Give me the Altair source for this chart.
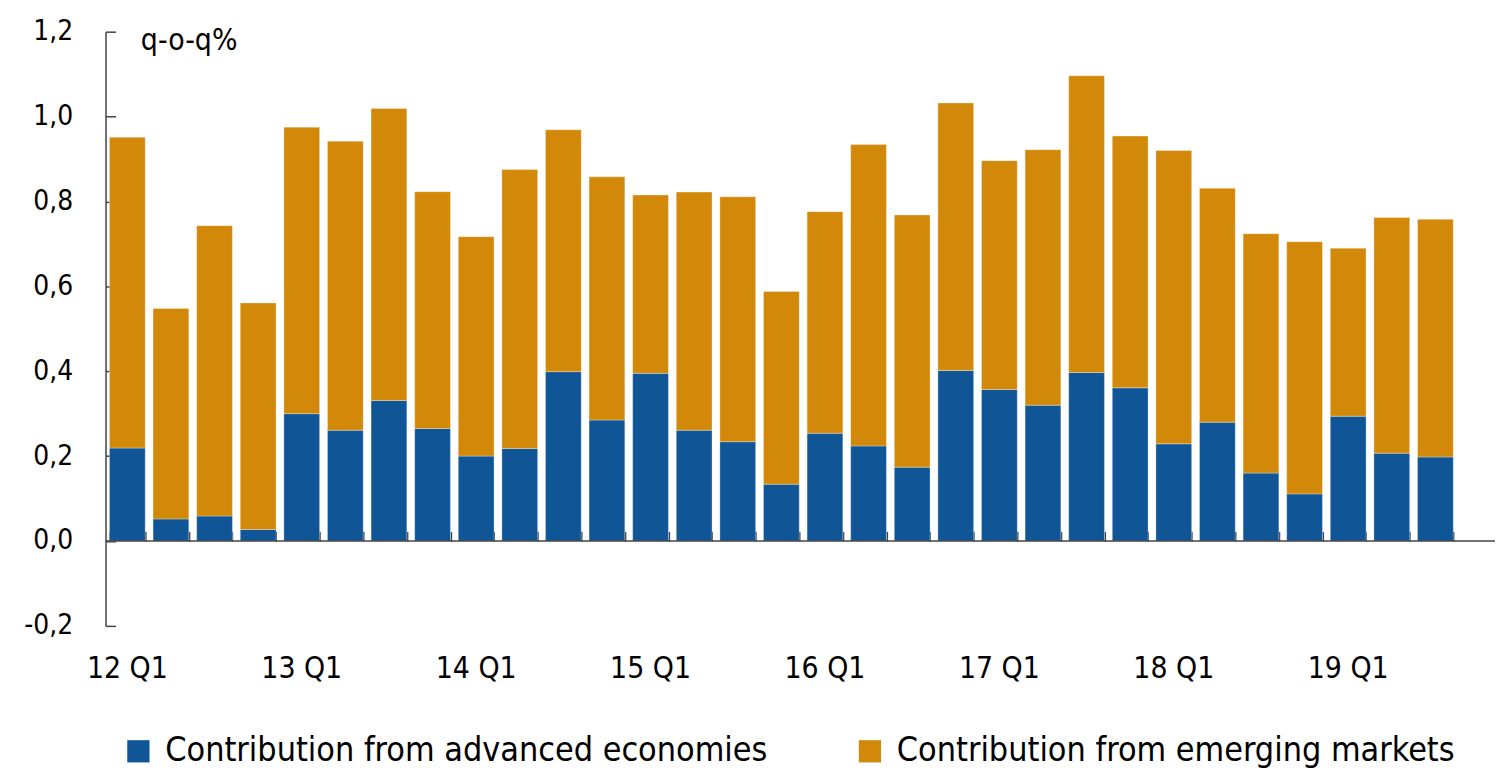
import altair as alt
import pandas as pd

quarters = ["12 Q1", "12 Q2", "12 Q3", "12 Q4",
            "13 Q1", "13 Q2", "13 Q3", "13 Q4",
            "14 Q1", "14 Q2", "14 Q3", "14 Q4",
            "15 Q1", "15 Q2", "15 Q3", "15 Q4",
            "16 Q1", "16 Q2", "16 Q3", "16 Q4",
            "17 Q1", "17 Q2", "17 Q3", "17 Q4",
            "18 Q1", "18 Q2", "18 Q3", "18 Q4",
            "19 Q1", "19 Q2", "19 Q3"]

advanced = [0.219, 0.052, 0.059, 0.027, 0.300, 0.261, 0.331, 0.265,
            0.200, 0.218, 0.399, 0.285, 0.395, 0.261, 0.234, 0.134,
            0.254, 0.224, 0.174, 0.402, 0.357, 0.320, 0.397, 0.361,
            0.229, 0.280, 0.160, 0.111, 0.294, 0.207, 0.198]

emerging = [0.732, 0.496, 0.684, 0.534, 0.675, 0.681, 0.688, 0.558,
            0.517, 0.657, 0.570, 0.573, 0.420, 0.561, 0.577, 0.454,
            0.522, 0.710, 0.594, 0.630, 0.539, 0.602, 0.699, 0.593,
            0.691, 0.551, 0.564, 0.594, 0.396, 0.555, 0.560]

series_names = ["Contribution from advanced economies",
                "Contribution from emerging markets"]
series_colors = ["#105697", "#D2890A"]
y_ticks = [-0.2, 0.0, 0.2, 0.4, 0.6, 0.8, 1.0, 1.2]

rows = []
for i, q in enumerate(quarters):
    rows.append({"q": q, "series": series_names[0], "value": advanced[i], "ord": 0})
    rows.append({"q": q, "series": series_names[1], "value": emerging[i], "ord": 1})
df = pd.DataFrame(rows)

W, H = 1358, 597
ZERO_OFF = -512
FONT = "Liberation Sans Narrow, DejaVu Sans Condensed, Roboto, sans-serif"
AX = "#444444"

xscale = alt.Scale(domain=quarters, paddingInner=0.18, paddingOuter=0.09)
yscale = alt.Scale(domain=[-0.2, 1.2], nice=False, zero=False)

bars = alt.Chart(df).mark_bar(stroke="white", strokeWidth=0.6, strokeOpacity=0.5).encode(
    x=alt.X("q:N", sort=quarters, scale=xscale,
            axis=alt.Axis(orient="bottom", domain=False, ticks=False, labelAngle=0,
                          labelExpr="indexof(datum.label, 'Q1') >= 0 ? datum.label : ''",
                          labelFontSize=30, labelPadding=28, labelColor="black",
                          labelFont=FONT, title=None)),
    y=alt.Y("value:Q", stack="zero", scale=yscale,
            axis=alt.Axis(orient="left", values=y_ticks, domain=False, ticks=False, grid=False,
                          labelExpr="replace(replace(format(datum.value, '.1f'), '.', ','), '\u2212', '-')",
                          labelFontSize=28, labelPadding=33, labelColor="black", labelFont=FONT,
                          title="q-o-q%", titleAngle=0, titleX=35, titleY=18,
                          titleAlign="left", titleBaseline="alphabetic",
                          titleFontSize=30, titleFontWeight="normal", titleFont=FONT,
                          titleColor="black")),
    color=alt.Color("series:N", scale=alt.Scale(domain=series_names, range=series_colors),
                    legend=alt.Legend(orient="none", legendX=16, legendY=706,
                                      direction="horizontal", title=None,
                                      symbolType="square", symbolSize=500,
                                      symbolStrokeWidth=0, labelFontSize=34,
                                      labelFont=FONT, labelColor="black",
                                      columnPadding=85, labelOffset=10, labelLimit=0)),
    order=alt.Order("ord:Q", sort="ascending"),
)

helper = alt.Chart(df).mark_bar(opacity=0).encode(
    x=alt.X("q:N", sort=quarters, scale=xscale,
            axis=alt.Axis(orient="top", offset=ZERO_OFF, labels=False, domain=False,
                          ticks=True, tickBand="extent", tickSize=10, tickColor=AX,
                          tickWidth=1.5, title=None, minExtent=0, maxExtent=0)),
    y=alt.Y("value:Q", stack="zero", scale=yscale,
            axis=alt.Axis(orient="right", offset=-W, values=y_ticks, labels=False,
                          domain=True, domainColor=AX, domainWidth=1.5,
                          ticks=True, tickSize=10, tickColor=AX, tickWidth=1.5,
                          grid=False, title=None, minExtent=0, maxExtent=0)),
    order=alt.Order("ord:Q", sort="ascending"),
)

zero_df = pd.DataFrame({"z": [0.0]})
zero_line = alt.Chart(zero_df).mark_rule(color=AX, strokeWidth=1.5).encode(
    y=alt.Y("z:Q", scale=yscale, axis=None),
    x=alt.value(0),
    x2=alt.value(W + 38),
)

chart = alt.layer(bars, helper, zero_line).resolve_axis(
    x="independent", y="independent"
).properties(
    width=W, height=H,
    padding={"left": 15, "top": 8, "right": 0, "bottom": 0},
).configure(background="white").configure_view(stroke=None)

chart.save("out.html", embed_options={"renderer": "svg", "actions": False})
